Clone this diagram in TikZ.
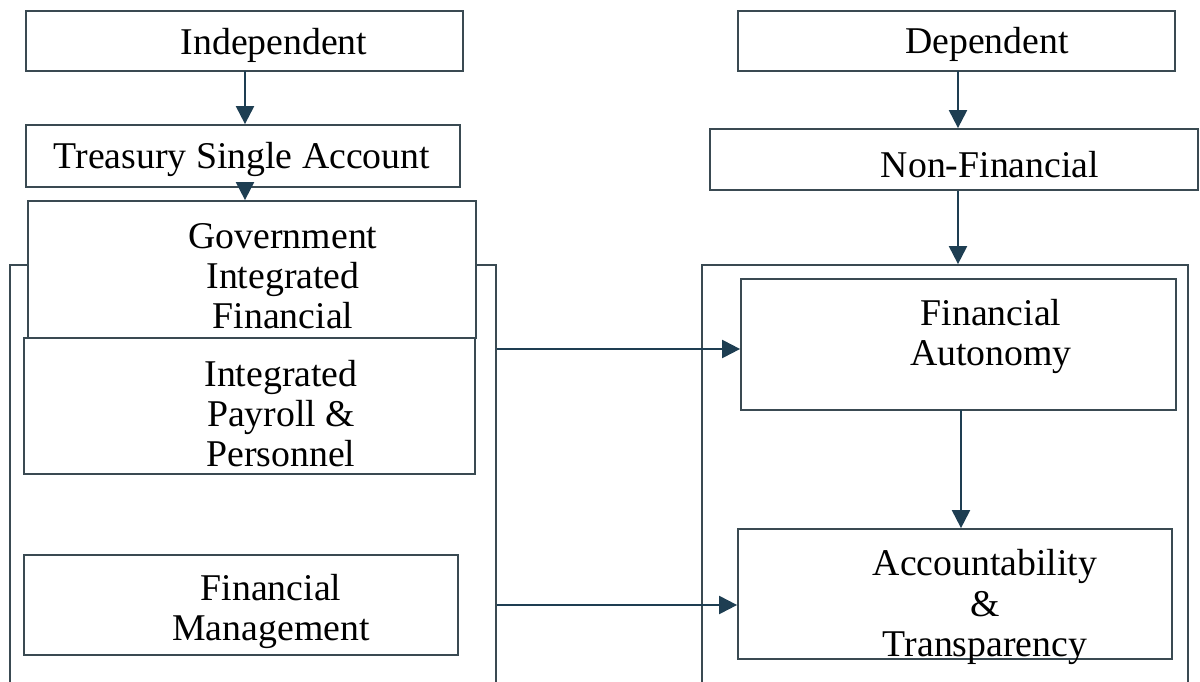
\documentclass[tikz,border=0pt]{standalone}
\usepackage{fontspec}
\setmainfont{Liberation Serif}
\usetikzlibrary{fit,arrows.meta}

\definecolor{frame}{HTML}{3A4A52}
\definecolor{arrowblue}{HTML}{1E3E52}

\tikzset{
  box/.style={draw=frame, line width=1pt, inner sep=0pt},
  lbl/.style={align=center, font=\fontsize{21.5}{22.8}\selectfont},
  flow/.style={draw=arrowblue, line width=1.2pt, -{Triangle[length=0.36cm,width=0.36cm]}}
}

\begin{document}
\begin{tikzpicture}[x=0.02cm, y=-0.02cm]
      \clip (0,0) rectangle (1200,682);
      % left column
      \node[box, fit={(10,265) (496,700)}] (leftframe) {};
      \node[box, fit={(26,11) (463,71)}] (indep) {};
      \node[lbl] at (274,45) {Independent};
      \node[box, fit={(26,125) (460,187)}] (tsa) {};
      \node[lbl] at (242,159) {Treasury Single Account};
      \node[box, fill=white, fit={(28,201) (476,338)}] (gifmis) {};
      \node[lbl] at (283,276) {Government\\Integrated\\Financial};
      \node[box, fill=white, fit={(24,338) (475,474)}] (ippis) {};
      \node[lbl] at (281,414) {Integrated\\Payroll \&\\Personnel};
      \node[box, fit={(24,555) (458,655)}] (finman) {};
      \node[lbl] at (271,611) {Financial\\Management};
      % right column
      \node[box, fit={(702,265) (1188,700)}] (rightframe) {};
      \node[box, fit={(738,11) (1175,71)}] (dep) {};
      \node[lbl] at (987,44) {Dependent};
      \node[box, fit={(710,129) (1198,190)}] (nonfin) {};
      \node[lbl] at (990,165) {Non-Financial};
      \node[box, fit={(741,279) (1176,410)}] (autonomy) {};
      \node[lbl] at (991,336) {Financial\\Autonomy};
      \node[box, fit={(738,529) (1172,659)}] (account) {};
      \node[lbl] at (985,607) {Accountability\\\&\\Transparency};
      % connectors
      \coordinate (tsafoot) at (245,187);
      \draw[flow] (245,71) -- (tsa.north -| tsafoot);
      \draw[flow] (tsafoot) -- (gifmis.north -| tsafoot);
      \coordinate (depfoot) at (958,71);
      \draw[flow] (depfoot) -- (nonfin.north -| depfoot);
      \draw[flow] (nonfin.south -| depfoot) -- (rightframe.north -| depfoot);
      \coordinate (autofoot) at (961,410);
      \draw[flow] (autofoot) -- (account.north -| autofoot);
      \coordinate (rowone) at (0,349);
      \coordinate (rowtwo) at (0,605);
      \draw[flow] (leftframe.east |- rowone) -- (autonomy.west |- rowone);
      \draw[flow] (leftframe.east |- rowtwo) -- (account.west |- rowtwo);
    \end{tikzpicture}
\end{document}
